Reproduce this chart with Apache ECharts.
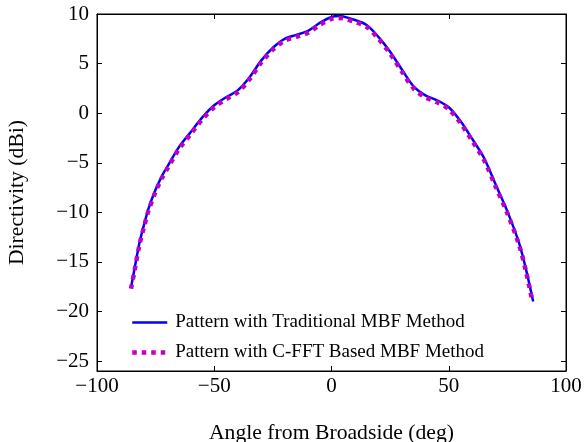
<!DOCTYPE html>
<html><head><meta charset="utf-8">
<script src="https://cdn.jsdelivr.net/npm/echarts@6/dist/echarts.min.js"></script>
<style>html,body{margin:0;padding:0;background:#fff}#c{width:584px;height:442px}</style>
</head><body><div id="c"></div>
<script>
const seriesNames = ['Pattern with Traditional MBF Method', 'Pattern with C-FFT Based MBF Method'];
const anglesTrad = [-85.5,-84,-82,-80,-78,-75,-72,-70,-65,-60,-55,-50,-45,-40,-35,-30,-25,-20,-15,-10,-5,0,3,5,10,15,20,25,30,35,40,45,50,55,60,65,70,75,80,83,86];
const directTrad = [-17.6,-15.7,-13.2,-11.3,-9.6,-7.7,-6.2,-5.4,-3.4,-1.9,-0.4,0.8,1.6,2.3,3.6,5.3,6.6,7.5,7.9,8.3,9.1,9.7,9.8,9.75,9.4,8.9,7.7,6.2,4.4,2.7,1.8,1.3,0.6,-0.8,-2.6,-4.5,-7.2,-9.9,-13.1,-15.8,-19.0];
const anglesFFT = [-85.5,-84,-82,-80,-78,-75,-72,-70,-65,-60,-55,-50,-45,-40,-35,-30,-25,-20,-15,-10,-5,0,3,5,10,15,20,25,30,35,40,45,50,55,60,65,70,75,80,83,85.6];
const directFFT = [-17.7,-15.9,-13.4,-11.5,-9.8,-7.9,-6.4,-5.6,-3.6,-2.1,-0.6,0.6,1.4,2.1,3.4,5.1,6.4,7.3,7.7,8.1,8.9,9.5,9.6,9.55,9.2,8.7,7.5,6.0,4.2,2.5,1.6,1.1,0.4,-1.0,-2.8,-4.7,-7.4,-10.1,-13.3,-16.0,-18.9];
const xTicks = [-100,-50,0,50,100];
const yTicks = [-25,-20,-15,-10,-5,0,5,10];

const FONT = '"Liberation Serif","DejaVu Serif",serif';
const minusFmt = v => String(v).replace('-', '\u2212');
const zip = (a, b) => a.map((x, i) => [x, b[i]]);

const chart = echarts.init(document.getElementById('c'), null, {renderer: 'canvas'});
const tick = extra => Object.assign({show: true, inside: true, length: 5, lineStyle: {color: '#000', width: 1}}, extra || {});
const blueLine = {color: '#0000ff', width: 2.5, type: 'solid'};
const magLine = {color: '#c000c0', width: 4.5, type: [4.5, 5]};
chart.setOption({
  animation: false,
  backgroundColor: '#fff',
  grid: {left: 97, right: 18, top: 14, bottom: 71, outerBoundsMode: 'none', containLabel: false,
    show: true, borderColor: '#000', borderWidth: 1, backgroundColor: 'transparent'},
  legend: {
    left: 125, top: 308, orient: 'vertical', itemWidth: 35, itemHeight: 14, itemGap: 11,
    textStyle: {fontFamily: FONT, fontSize: 19, color: '#000', padding: [0, 0, 0, 3]},
    itemStyle: {opacity: 0},
    data: [
      {name: seriesNames[0], lineStyle: blueLine, itemStyle: {opacity: 0}},
      {name: seriesNames[1], lineStyle: magLine, itemStyle: {opacity: 0}}
    ]
  },
  xAxis: [{
    type: 'value', min: -100, max: 100, interval: 50, position: 'bottom',
    axisLine: {show: true, onZero: false, lineStyle: {color: '#000', width: 1}},
    axisTick: tick(), splitLine: {show: false},
    axisLabel: {fontFamily: FONT, fontSize: 21, color: '#000', margin: 5, formatter: minusFmt},
    name: 'Angle from Broadside (deg)', nameLocation: 'middle', nameGap: 51,
    nameTextStyle: {fontFamily: FONT, fontSize: 21.7, color: '#000'}
  }, {
    type: 'value', min: -100, max: 100, interval: 50, position: 'top',
    axisLine: {show: true, onZero: false, lineStyle: {color: '#000', width: 1}},
    axisTick: tick(), axisLabel: {show: false}, splitLine: {show: false}
  }],
  yAxis: [{
    type: 'value', min: -26, max: 10, position: 'left',
    axisLine: {show: true, onZero: false, lineStyle: {color: '#000', width: 1}},
    axisTick: tick({customValues: yTicks}), splitLine: {show: false},
    axisLabel: {fontFamily: FONT, fontSize: 21, color: '#000', margin: 8,
      customValues: yTicks, formatter: minusFmt},
    name: 'Directivity (dBi)', nameLocation: 'middle', nameGap: 69, nameRotate: 90,
    nameTextStyle: {fontFamily: FONT, fontSize: 21.7, color: '#000'}
  }, {
    type: 'value', min: -26, max: 10, position: 'right',
    axisLine: {show: true, onZero: false, lineStyle: {color: '#000', width: 1}},
    axisTick: tick({customValues: yTicks}), axisLabel: {show: false, customValues: yTicks}, splitLine: {show: false}
  }],
  series: [{
    name: seriesNames[0], type: 'line', xAxisIndex: 0, yAxisIndex: 0,
    data: zip(anglesTrad, directTrad), smooth: 0.3, showSymbol: false, symbol: 'none',
    lineStyle: blueLine, itemStyle: {color: '#0000ff'}
  }, {
    name: seriesNames[1], type: 'line', xAxisIndex: 0, yAxisIndex: 0,
    data: zip(anglesFFT, directFFT), smooth: 0.3, showSymbol: false, symbol: 'none',
    lineStyle: magLine, itemStyle: {color: '#c000c0'}
  }]
});
</script></body></html>
